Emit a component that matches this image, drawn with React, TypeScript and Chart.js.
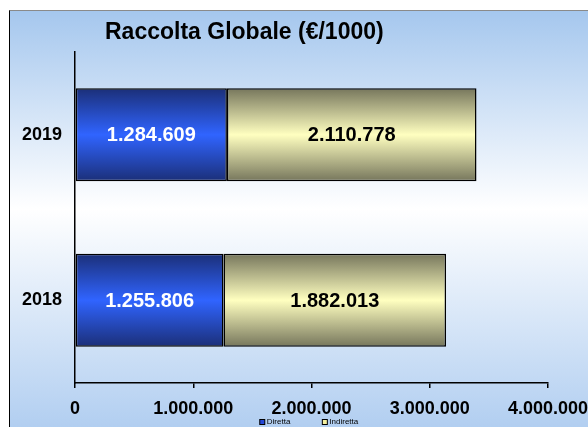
import React, { useEffect, useRef } from "react";
import { Chart, registerables } from "chart.js";

Chart.register(...registerables);

const categories = ["2019", "2018"];
const diretta = [1284609, 1255806];
const indiretta = [2110778, 1882013];
const seriesNames = ["Diretta", "Indiretta"];
const legendColors = ["#2448d8", "#f4f0a0"];
const xTicks = [0, 1000000, 2000000, 3000000, 4000000];
const titleText = "Raccolta Globale (€/1000)";

const FONT = 'Arial, "Liberation Sans", sans-serif';

const fmt = (n: number) => String(Math.round(n)).replace(/\B(?=(\d{3})+(?!\d))/g, ".");

const BAR_FRACTION = 0.562;

function gradientFor(ctx: any, stops: [number, string][]) {
  const chart = ctx.chart;
  const area = chart.chartArea;
  if (!area || ctx.type !== "data") return stops[Math.floor(stops.length / 2)][1];
  const yScale = chart.scales.y;
  const yc = yScale.getPixelForValue(ctx.dataIndex);
  const h = (yScale.height / categories.length) * BAR_FRACTION;
  const g = chart.ctx.createLinearGradient(0, yc - h / 2, 0, yc + h / 2);
  stops.forEach(([o, c]) => g.addColorStop(o, c));
  return g;
}

const blueStops: [number, string][] = [
  [0, "#1b2f78"],
  [0.5, "#3064ff"],
  [1, "#1b2f78"],
];
const tanStops: [number, string][] = [
  [0, "#76765c"],
  [0.5, "#ffffc0"],
  [1, "#76765c"],
];

const titlePlugin = {
  id: "customTitle",
  afterDraw(chart: any) {
    const { ctx, chartArea } = chart;
    ctx.save();
    ctx.font = `bold 23px ${FONT}`;
    ctx.fillStyle = "#000";
    ctx.textAlign = "left";
    ctx.textBaseline = "middle";
    ctx.fillText(titleText, chartArea.left + 30, 22);
    ctx.restore();
  },
};

const legendPlugin = {
  id: "customLegend",
  afterDraw(chart: any) {
    const { ctx, width, chartArea } = chart;
    const box = 5;
    const gap = 2;
    const spacing = 32;
    ctx.save();
    ctx.font = `8px ${FONT}`;
    ctx.textBaseline = "middle";
    ctx.textAlign = "left";
    const widths = seriesNames.map((s) => ctx.measureText(s).width);
    const total =
      widths.reduce((a, w) => a + box + gap + w, 0) + spacing * (seriesNames.length - 1);
    let x = width / 2 - total / 2;
    const y = chartArea.bottom + 39;
    seriesNames.forEach((name, i) => {
      ctx.fillStyle = legendColors[i];
      ctx.fillRect(x, y - box / 2, box, box);
      ctx.strokeStyle = "#000";
      ctx.lineWidth = 1;
      ctx.strokeRect(x, y - box / 2, box, box);
      ctx.fillStyle = "#000";
      ctx.fillText(name, x + box + gap, y);
      x += box + gap + widths[i] + spacing;
    });
    ctx.restore();
  },
};

const labelPlugin = {
  id: "barLabels",
  afterDatasetsDraw(chart: any) {
    const { ctx } = chart;
    ctx.save();
    ctx.font = `bold 20px ${FONT}`;
    ctx.textAlign = "center";
    ctx.textBaseline = "middle";
    chart.data.datasets.forEach((ds: any, di: number) => {
      const meta = chart.getDatasetMeta(di);
      meta.data.forEach((el: any, i: number) => {
        ctx.fillStyle = di === 0 ? "#ffffff" : "#000000";
        ctx.fillText(fmt(ds.data[i]), (el.x + el.base) / 2, el.y + 1);
      });
    });
    ctx.restore();
  },
};

export default function App() {
  const ref = useRef<HTMLCanvasElement>(null);
  useEffect(() => {
    if (!ref.current) return;
    const chart = new Chart(ref.current, {
      type: "bar",
      data: {
        labels: categories,
        datasets: [
          {
            label: seriesNames[0],
            data: diretta,
            backgroundColor: (c: any) => gradientFor(c, blueStops),
            borderColor: "#000",
            borderWidth: 1.5,
            borderSkipped: false,
            categoryPercentage: 1,
            barPercentage: BAR_FRACTION,
          },
          {
            label: seriesNames[1],
            data: indiretta,
            backgroundColor: (c: any) => gradientFor(c, tanStops),
            borderColor: "#000",
            borderWidth: 1.5,
            borderSkipped: false,
            categoryPercentage: 1,
            barPercentage: BAR_FRACTION,
          },
        ],
      },
      options: {
        indexAxis: "y",
        responsive: false,
        animation: false,
        layout: { padding: { top: 41, right: 60, left: 0, bottom: 6 } },
        scales: {
          x: {
            stacked: true,
            min: xTicks[0],
            max: xTicks[xTicks.length - 1],
            afterBuildTicks: (s: any) => {
              s.ticks = xTicks.map((v) => ({ value: v }));
            },
            afterFit: (s: any) => {
              s.height = 47;
            },
            grid: {
              display: true,
              drawOnChartArea: false,
              drawTicks: true,
              tickLength: 5,
              color: "#000",
              lineWidth: 1.5,
            },
            border: { display: true, color: "#000", width: 1.5 },
            ticks: {
              padding: 10,
              color: "#000",
              font: { family: FONT, size: 18, weight: "bold" },
              maxRotation: 0,
              autoSkip: false,
              callback: (v: any) => fmt(Number(v)),
            },
          },
          y: {
            stacked: true,
            afterFit: (s: any) => {
              s.width = 65;
            },
            grid: { display: false, drawTicks: false },
            border: { display: true, color: "#000", width: 1.5 },
            ticks: {
              padding: 13,
              color: "#000",
              font: { family: FONT, size: 18, weight: "bold" },
            },
          },
        },
        plugins: {
          title: { display: false },
          tooltip: { enabled: false },
          legend: { display: false },
        },
      },
      plugins: [titlePlugin, labelPlugin, legendPlugin],
    });
    return () => chart.destroy();
  }, []);

  return (
    <div
      style={{
        position: "fixed",
        left: 9,
        top: 10,
        width: 600,
        height: 440,
        borderTop: "1px solid #8a8a8a",
        borderLeft: "1px solid #000",
        background:
          "linear-gradient(180deg, #a5c7ee 0%, #ffffff 45%, #a9c9ef 100%)",
        overflow: "hidden",
      }}
    >
      <canvas ref={ref} width={598} height={425} style={{ display: "block", width: 598, height: 425 }} />
    </div>
  );
}
